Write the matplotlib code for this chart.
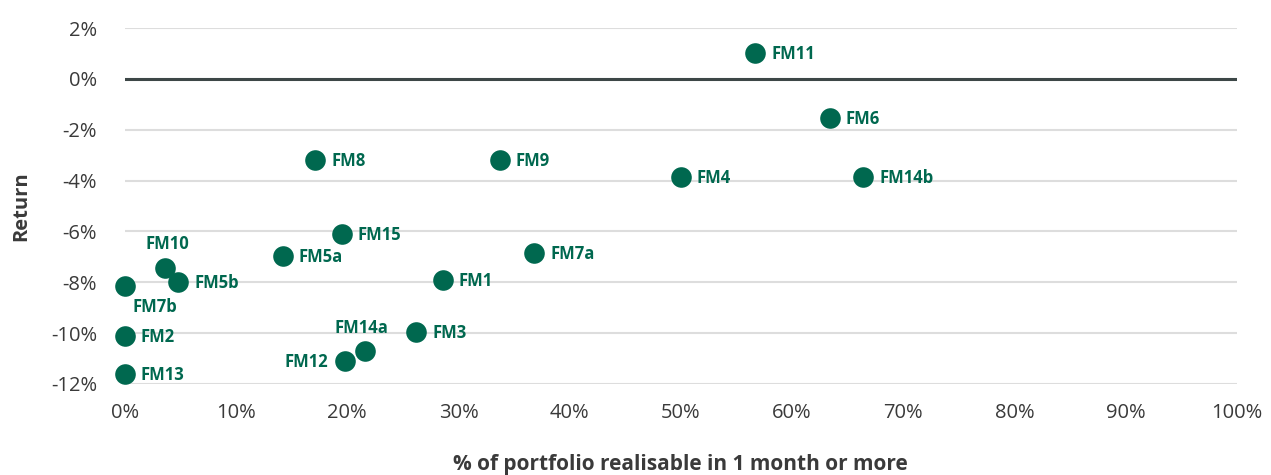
import numpy as np
import matplotlib.pyplot as plt
import pandas as pd

# fund data: % realisable in 1 month or more vs return
names = ['FM11', 'FM6', 'FM8', 'FM9', 'FM4', 'FM14b', 'FM15', 'FM5a', 'FM7a',
         'FM10', 'FM5b', 'FM7b', 'FM1', 'FM3', 'FM2', 'FM14a', 'FM12', 'FM13']
realisable = [56.7, 63.4, 17.1, 33.7, 50.0, 66.4, 19.5, 14.2, 36.8,
              3.6, 4.8, 0.0, 28.6, 26.2, 0.0, 21.6, 19.8, 0.0]
returns = [1.0, -1.55, -3.2, -3.2, -3.85, -3.85, -6.1, -6.95, -6.85,
           -7.45, -8.0, -8.15, -7.9, -9.95, -10.1, -10.7, -11.1, -11.6]

# label offsets in pixels (dx, dy, ha)
offsets = {'FM10': (2, 24, 'center'), 'FM7b': (30, -21, 'center'),
           'FM14a': (-4, 23, 'center'), 'FM12': (-17, -1, 'right')}

green = '#00684f'
grey = '#3a3a3a'

plt.rcParams['font.family'] = ['Open Sans', 'DejaVu Sans']

fig = plt.figure(figsize=(12.71, 4.75), dpi=100)
ax = fig.add_axes([0.0983, 0.1916, 0.8747, 0.7494])

ax.scatter(realisable, returns, s=220, color=green, zorder=3, clip_on=False,
           linewidths=0)

for n, xv, yv in zip(names, realisable, returns):
    dx, dy, ha = offsets.get(n, (16, -1, 'left'))
    ax.annotate(n, (xv, yv), xytext=(dx, dy), textcoords='offset pixels',
                ha=ha, va='center', color=green, fontsize=12,
                fontweight='bold', zorder=4)

ax.set_xlim(0, 100)
ax.set_ylim(-12, 2)
ax.set_xticks(np.arange(0, 101, 10))
ax.set_yticks(np.arange(-12, 3, 2))
ax.set_xticklabels([f'{v}%' for v in range(0, 101, 10)])
ax.set_yticklabels([f'{v}%' for v in range(-12, 3, 2)])
ax.tick_params(length=0, labelsize=14.5, colors=grey, pad=14)
ax.tick_params(axis='y', pad=20)

ax.grid(axis='y', color='#dddddd', linewidth=1.5, zorder=0)
ax.axhline(0, color='#3d4747', linewidth=2.2, zorder=2)
for s in ax.spines.values():
    s.set_visible(False)

ax.set_xlabel('% of portfolio realisable in 1 month or more', fontsize=15,
              fontweight='bold', color=grey, labelpad=22)
ax.set_ylabel('Return', fontsize=14.5, fontweight='bold', color=grey,
              labelpad=14)

fig.savefig('out.png', dpi=100)
